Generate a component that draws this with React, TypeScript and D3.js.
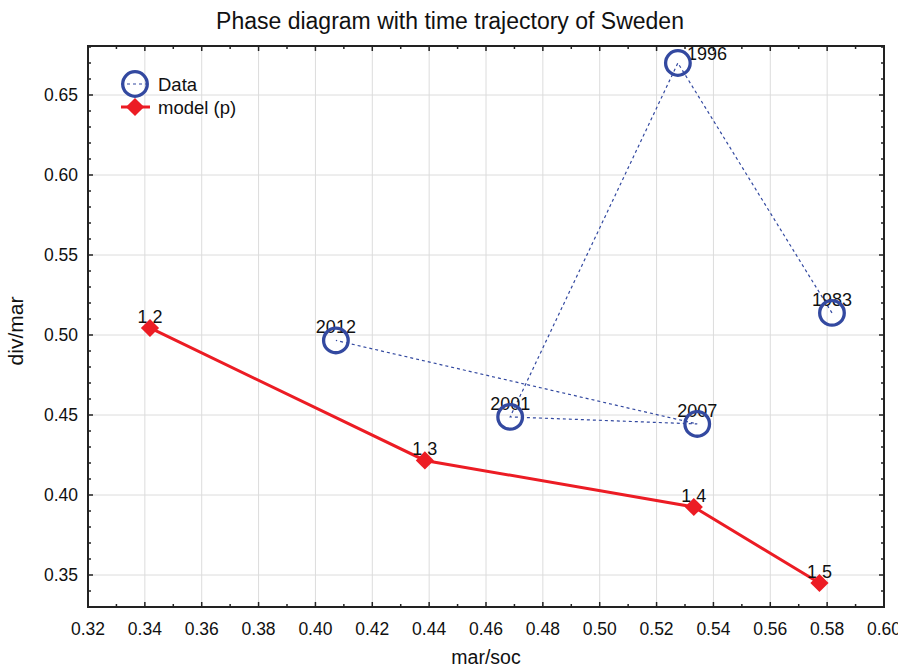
import React, { useEffect, useRef } from "react";
import * as d3 from "d3";

const dataYears = ["1983", "1996", "2001", "2007", "2012"];
const dataX = [0.5817, 0.5275, 0.4685, 0.5343, 0.4072];
const dataY = [0.5138, 0.67, 0.4488, 0.4444, 0.4966];

const modelLabels = ["1.2", "1.3", "1.4", "1.5"];
const modelX = [0.3418, 0.4385, 0.5331, 0.5773];
const modelY = [0.5044, 0.4216, 0.3925, 0.345];

const xTicks = [0.32, 0.34, 0.36, 0.38, 0.4, 0.42, 0.44, 0.46, 0.48, 0.5, 0.52, 0.54, 0.56, 0.58, 0.6];
const yTicks = [0.35, 0.4, 0.45, 0.5, 0.55, 0.6, 0.65];

const W = 898, H = 668;
const M = { left: 88, right: 884, top: 46, bottom: 607 };
const BLUE = "#3349a0";
const RED = "#ec1c24";
const FONT = "'Liberation Sans', Arial, sans-serif";

export default function App() {
  const ref = useRef<SVGSVGElement>(null);
  useEffect(() => {
    const svg = d3.select(ref.current);
    svg.selectAll("*").remove();
    const x = d3.scaleLinear().domain([0.32, 0.6]).range([M.left, M.right]);
    const y = d3.scaleLinear().domain([0.35, 0.65]).range([575, 95]);
    const yMax = y.invert(M.top);

    svg.append("rect").attr("width", W).attr("height", H).attr("fill", "white");

    // grid
    const g = svg.append("g");
    xTicks.slice(1, -1).forEach((t) => {
      g.append("line").attr("x1", x(t)).attr("x2", x(t)).attr("y1", M.top).attr("y2", M.bottom)
        .attr("stroke", "#dcdcdc").attr("stroke-width", 1);
    });
    yTicks.forEach((t) => {
      g.append("line").attr("x1", M.left).attr("x2", M.right).attr("y1", y(t)).attr("y2", y(t))
        .attr("stroke", "#dcdcdc").attr("stroke-width", 1);
    });

    // ticks (inward, all sides)
    const minorX = d3.range(0.33, 0.6, 0.02);
    const minorY = d3.range(0.34, yMax, 0.01).filter((v) => Math.abs(v * 20 - Math.round(v * 20)) > 1e-6);
    const tk = svg.append("g").attr("stroke", "#222").attr("stroke-width", 1.5);
    xTicks.forEach((t) => {
      tk.append("line").attr("x1", x(t)).attr("x2", x(t)).attr("y1", M.bottom).attr("y2", M.bottom - 5);
      tk.append("line").attr("x1", x(t)).attr("x2", x(t)).attr("y1", M.top).attr("y2", M.top + 5);
    });
    minorX.forEach((t) => {
      tk.append("line").attr("x1", x(t)).attr("x2", x(t)).attr("y1", M.bottom).attr("y2", M.bottom - 3);
      tk.append("line").attr("x1", x(t)).attr("x2", x(t)).attr("y1", M.top).attr("y2", M.top + 3);
    });
    yTicks.forEach((t) => {
      tk.append("line").attr("x1", M.left).attr("x2", M.left + 5).attr("y1", y(t)).attr("y2", y(t));
      tk.append("line").attr("x1", M.right).attr("x2", M.right - 5).attr("y1", y(t)).attr("y2", y(t));
    });
    minorY.forEach((t) => {
      tk.append("line").attr("x1", M.left).attr("x2", M.left + 3).attr("y1", y(t)).attr("y2", y(t));
      tk.append("line").attr("x1", M.right).attr("x2", M.right - 3).attr("y1", y(t)).attr("y2", y(t));
    });

    // frame
    svg.append("rect").attr("x", M.left).attr("y", M.top).attr("width", M.right - M.left)
      .attr("height", M.bottom - M.top).attr("fill", "none").attr("stroke", "#222").attr("stroke-width", 2);

    // tick labels
    const tl = svg.append("g").attr("font-family", FONT).attr("font-size", 17.5).attr("fill", "#111");
    xTicks.forEach((t) => {
      tl.append("text").attr("x", x(t)).attr("y", 635).attr("text-anchor", "middle").text(t.toFixed(2));
    });
    yTicks.forEach((t) => {
      tl.append("text").attr("x", 78).attr("y", y(t) + 6).attr("text-anchor", "end").text(t.toFixed(2));
    });

    // titles
    svg.append("text").attr("x", 450).attr("y", 29).attr("text-anchor", "middle")
      .attr("font-family", FONT).attr("font-size", 23).attr("fill", "#111")
      .text("Phase diagram with time trajectory of Sweden");
    svg.append("text").attr("x", 486).attr("y", 664).attr("text-anchor", "middle")
      .attr("font-family", FONT).attr("font-size", 19.5).attr("fill", "#111").text("mar/soc");
    svg.append("text").attr("transform", `translate(23,331) rotate(-90)`).attr("text-anchor", "middle")
      .attr("font-family", FONT).attr("font-size", 21).attr("fill", "#111").text("div/mar");

    // data dashed line
    const dataPts = dataX.map((v, i) => [x(v), y(dataY[i])] as [number, number]);
    svg.append("path").attr("d", d3.line()(dataPts)).attr("fill", "none").attr("stroke", BLUE)
      .attr("stroke-width", 1.2).attr("stroke-dasharray", "3,3");

    // model line
    const modelPts = modelX.map((v, i) => [x(v), y(modelY[i])] as [number, number]);
    svg.append("path").attr("d", d3.line()(modelPts)).attr("fill", "none").attr("stroke", RED)
      .attr("stroke-width", 3);

    // labels
    const lb = svg.append("g").attr("font-family", FONT).attr("font-size", 18).attr("fill", "#111");
    dataPts.forEach((p, i) => {
      const is96 = dataYears[i] === "1996";
      lb.append("text").attr("x", is96 ? p[0] + 9 : p[0]).attr("y", is96 ? p[1] - 3 : p[1] - 7)
        .attr("text-anchor", is96 ? "start" : "middle").text(dataYears[i]);
    });
    modelPts.forEach((p, i) => {
      lb.append("text").attr("x", p[0]).attr("y", p[1] - 5).attr("text-anchor", "middle").text(modelLabels[i]);
    });

    // markers
    dataPts.forEach((p) => {
      svg.append("circle").attr("cx", p[0]).attr("cy", p[1]).attr("r", 12.3)
        .attr("fill", "none").attr("stroke", BLUE).attr("stroke-width", 3.3);
    });
    const diamond = d3.symbol().type(d3.symbolSquare).size(165);
    modelPts.forEach((p) => {
      svg.append("path").attr("d", diamond()).attr("transform", `translate(${p[0]},${p[1]}) rotate(45)`)
        .attr("fill", RED);
    });

    // legend
    const lg = svg.append("g");
    lg.append("line").attr("x1", 121).attr("x2", 149).attr("y1", 84).attr("y2", 84)
      .attr("stroke", BLUE).attr("stroke-width", 1.2).attr("stroke-dasharray", "3,3");
    lg.append("circle").attr("cx", 135).attr("cy", 84).attr("r", 12.3).attr("fill", "none")
      .attr("stroke", BLUE).attr("stroke-width", 3.3);
    lg.append("text").attr("x", 158).attr("y", 91).attr("font-family", FONT).attr("font-size", 18.5)
      .attr("fill", "#111").text("Data");
    lg.append("line").attr("x1", 121).attr("x2", 150).attr("y1", 107).attr("y2", 107)
      .attr("stroke", RED).attr("stroke-width", 3);
    lg.append("path").attr("d", diamond()).attr("transform", `translate(135,107) rotate(45)`).attr("fill", RED);
    lg.append("text").attr("x", 158).attr("y", 114).attr("font-family", FONT).attr("font-size", 18.5)
      .attr("fill", "#111").text("model (p)");
  }, []);
  return (
    <svg ref={ref} width={W} height={H} style={{ position: "absolute", left: 0, top: 0 }} />
  );
}
